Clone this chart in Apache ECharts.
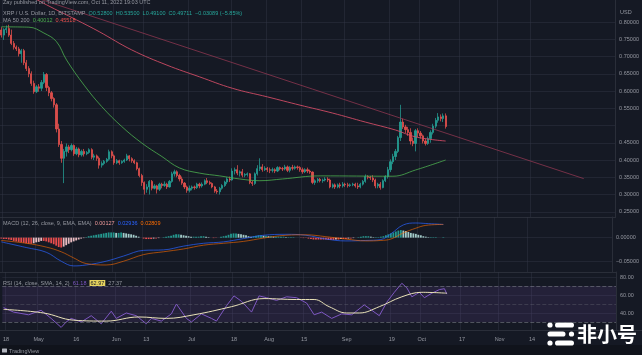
<!DOCTYPE html>
<html>
<head>
<meta charset="utf-8">
<style>
  html, body { margin: 0; padding: 0; background: #151924; }
  #chart { width: 642px; height: 355px; }
</style>
<script src="https://cdn.jsdelivr.net/npm/echarts@6/dist/echarts.min.js"></script>
</head>
<body>
<div id="chart"></div>
<script>
// XRP / U.S. Dollar, 1D, BITSTAMP
const START_DAY = '2022-04-17';
const DAY_COUNT = 245; // axis runs on into December (empty space right of the last bar)

// daily candles, Apr 17 .. Oct 11 2022
const opens = [
  .777,.762,.778,.781,.762,.738,.727,.722,.708,.717,.682,.665,.650,.622,.598,.612,.608,.625,.648,.610,
  .595,.578,.560,.490,.445,.405,.425,.438,.430,.442,.418,.432,.415,.425,.418,.422,.430,.408,.412,.405,
  .385,.390,.396,.402,.424,.412,.392,.398,.392,.396,.400,.412,.404,.398,.392,.375,.355,.335,.315,.322,
  .338,.318,.325,.315,.330,.326,.330,.322,.338,.360,.366,.355,.345,.333,.322,.312,.318,.322,.320,.330,
  .325,.330,.340,.335,.332,.322,.310,.308,.318,.326,.336,.345,.342,.368,.372,.362,.366,.356,.358,.360,
  .335,.332,.360,.375,.380,.372,.376,.372,.370,.372,.368,.378,.375,.374,.380,.370,.378,.376,.380,.378,
  .372,.366,.372,.368,.365,.335,.340,.344,.340,.342,.345,.342,.322,.328,.322,.328,.325,.330,.328,.326,
  .328,.330,.325,.322,.330,.338,.352,.350,.348,.342,.325,.330,.320,.340,.352,.372,.395,.410,.425,.465,
  .510,.496,.488,.480,.455,.448,.485,.478,.470,.455,.448,.462,.480,.498,.515,.525,.520,.528
];
const closes = [
  .762,.778,.781,.762,.738,.727,.722,.708,.717,.682,.665,.650,.622,.598,.612,.608,.625,.648,.610,.595,
  .578,.560,.490,.445,.405,.425,.438,.430,.442,.418,.432,.415,.425,.418,.422,.430,.408,.412,.405,.385,
  .390,.396,.402,.424,.412,.392,.398,.392,.396,.400,.412,.404,.398,.392,.375,.355,.335,.315,.322,.338,
  .318,.325,.315,.330,.326,.330,.322,.338,.360,.366,.355,.345,.333,.322,.312,.318,.322,.320,.330,.325,
  .330,.340,.335,.332,.322,.310,.308,.318,.326,.336,.345,.342,.368,.372,.362,.366,.356,.358,.360,.335,
  .332,.360,.375,.380,.372,.376,.372,.370,.372,.368,.378,.375,.374,.380,.370,.378,.376,.380,.378,.372,
  .366,.372,.368,.365,.335,.340,.344,.340,.342,.345,.342,.322,.328,.322,.328,.325,.330,.328,.326,.328,
  .330,.325,.322,.330,.338,.352,.350,.348,.342,.325,.330,.320,.340,.352,.372,.395,.410,.425,.465,.510,
  .496,.488,.480,.455,.448,.485,.478,.470,.455,.448,.462,.480,.498,.515,.525,.520,.528,.49711
];
const lows = [
  .755,.748,.768,.757,.733,.720,.716,.700,.682,.675,.658,.640,.615,.592,.594,.598,.600,.620,.600,.585,
  .570,.552,.480,.438,.392,.333,.410,.420,.425,.412,.414,.408,.410,.410,.414,.418,.402,.400,.398,.375,
  .378,.385,.392,.398,.405,.386,.388,.386,.389,.392,.397,.396,.392,.388,.370,.350,.325,.300,.305,.300,
  .312,.315,.303,.310,.318,.322,.316,.320,.334,.352,.350,.338,.328,.316,.305,.306,.312,.314,.316,.318,
  .320,.327,.330,.328,.318,.305,.302,.300,.314,.322,.330,.336,.340,.358,.356,.352,.350,.350,.352,.330,
  .325,.328,.355,.368,.366,.368,.365,.362,.364,.362,.365,.370,.368,.370,.365,.364,.370,.372,.372,.366,
  .360,.362,.362,.360,.330,.328,.334,.335,.334,.338,.336,.318,.318,.316,.318,.318,.320,.322,.320,.322,
  .324,.320,.316,.318,.326,.334,.344,.342,.336,.318,.318,.314,.318,.336,.346,.365,.388,.400,.420,.455,
  .490,.478,.470,.445,.440,.425,.466,.462,.448,.442,.444,.450,.474,.492,.508,.512,.510,.491
];
const highs = [
  .785,.782,.790,.792,.778,.745,.732,.728,.722,.722,.690,.672,.657,.630,.617,.620,.632,.655,.652,.615,
  .600,.582,.565,.505,.455,.432,.448,.444,.448,.445,.438,.436,.430,.432,.426,.434,.434,.418,.416,.410,
  .396,.400,.406,.430,.428,.416,.403,.401,.399,.404,.418,.414,.408,.402,.395,.378,.360,.338,.330,.342,
  .342,.330,.328,.334,.334,.338,.334,.342,.366,.372,.370,.360,.352,.336,.326,.326,.326,.326,.334,.334,
  .335,.344,.348,.340,.335,.325,.316,.322,.330,.340,.350,.352,.376,.378,.385,.370,.374,.362,.364,.362,
  .340,.364,.385,.405,.388,.382,.380,.378,.378,.376,.382,.381,.380,.386,.384,.382,.386,.384,.384,.382,
  .378,.376,.378,.372,.367,.344,.348,.348,.346,.350,.350,.346,.332,.332,.332,.334,.336,.334,.334,.332,
  .334,.334,.334,.334,.342,.358,.356,.354,.356,.346,.334,.336,.344,.356,.380,.402,.418,.432,.470,.560,
  .520,.502,.496,.492,.465,.490,.492,.484,.474,.462,.468,.486,.505,.522,.536,.532,.535,.535
];

// moving averages (bar index, value)
const ma50Idx = [0, 11, 17, 22, 26, 33, 40, 48, 56, 64, 71, 79, 87, 95, 103, 112, 127, 156, 165, 177];
const ma50Val = [.786, .785, .768, .743, .690, .617, .555, .497, .449, .410, .377, .362, .354, .345, .340, .345, .354, .353, .371, .400];
const ma200Idx = [0, 18, 30, 39, 52, 66, 79, 92, 106, 119, 132, 145, 157, 165, 177];
const ma200Val = [.920, .850, .806, .772, .719, .675, .641, .608, .583, .559, .536, .510, .487, .467, .455];

// drawn trend line (bar index, price)
const trendIdx = [16, 232];
const trendVal = [0.865, 0.346];

// MACD (12, 26, close, 9)
const macdHist = [
  -.002,-.003,-.003,-.004,-.005,
  -.007,-.008,-.009,-.010,-.011,-.012,-.013,-.013,
  -.012,-.010,-.009,-.007,-.007,-.008,
  -.010,-.012,-.014,-.017,-.020,-.021,-.019,
  -.016,-.013,-.010,-.008,-.006,-.004,-.002,-.001,
  .001,.003,.004,.005,.006,.007,.008,
  .009,.010,.011,.011,.011,.010,.010,.011,.010,
  .009,.008,.007,.006,.004,.002,.000,
  -.002,-.003,-.003,-.003,-.002,-.002,-.001,.000,
  .001,.002,.003,.004,.006,.007,.007,.006,.005,.004,.003,
  .002,.002,.002,.002,.003,.003,.002,.001,.000,-.001,-.001,.000,
  .002,.003,.004,.006,.008,.009,.009,.008,.007,.006,.005,
  .003,.002,.003,.004,.005,.005,.004,.004,.003,.003,.002,.002,
  .002,.002,.002,.001,.001,.001,.001,.000,.000,-.001,-.001,
  -.001,-.002,-.003,-.004,-.004,-.004,-.004,-.004,-.004,-.005,-.005,-.005,-.004,-.004,-.003,-.003,-.003,
  -.002,-.002,-.001,.000,.001,.002,.003,.003,.003,.002,.001,.001,
  .001,.002,.003,.005,.007,.009,.011,.013,.015,
  .016,.015,.014,.012,.010,.009,.008,.006,.005,.003,
  .002,.001,.001,.001,.001,.000,.000,.001
];
const macdIdx = [0, 10, 18, 24, 29, 34, 42, 49, 57, 65, 73, 81, 89, 97, 105, 114, 122, 130, 138, 146, 152, 156, 161, 166, 170, 177];
const macdVal = [-.009, -.021, -.031, -.050, -.060, -.058, -.050, -.039, -.027, -.026, -.018, -.012, -.009, -.002, .005, .007, .005, -.003, -.007, -.006, -.004, .008, .027, .031, .030, .028];
const signalVal = [-.006, -.012, -.020, -.030, -.043, -.055, -.058, -.050, -.036, -.030, -.024, -.016, -.012, -.008, -.001, .005, .006, .002, -.003, -.007, -.006, -.003, .010, .020, .026, .028];

// RSI (14) and its SMA (14)
const rsiIdx = [0, 4, 10, 15, 19, 23, 25, 27, 31, 35, 39, 43, 45, 49, 53, 57, 59, 63, 67, 69, 73, 75, 79, 83, 85, 89, 92, 95, 99, 102,
  105, 109, 113, 117, 121, 124, 127, 131, 135, 139, 144, 147, 150, 153, 156, 159, 161, 163, 166, 168, 171, 174, 176, 177];
const rsiVal = [46, 41, 38, 43, 34, 24, 30, 34, 30, 37, 28, 42, 34, 40, 37, 28, 34, 31, 39, 50, 34, 30, 39, 34, 31, 48, 59, 53, 41, 59,
  57, 54, 58, 57, 51, 38, 41, 34, 39, 38, 49, 43, 37, 52, 63, 73, 68, 58, 63, 57, 62, 66, 67, 61];
const rsiMaIdx = [0, 16, 28, 41, 54, 65, 76, 91, 104, 117, 124, 130, 137, 142, 150, 159, 167, 177];
const rsiMaVal = [44, 40, 32, 31, 35.6, 34, 38, 47, 56, 55, 55, 47, 40, 40, 47, 58, 63, 62];

// axis labels
const tickDates = ['2022-04-18', '2022-05-01', '2022-05-16', '2022-06-01', '2022-06-13', '2022-07-01', '2022-07-18', '2022-08-01',
  '2022-08-15', '2022-09-01', '2022-09-19', '2022-10-01', '2022-10-17', '2022-11-01', '2022-11-14'];
const tickTexts = ['18', 'May', '16', 'Jun', '13', 'Jul', '18', 'Aug', '15', 'Sep', '19', 'Oct', '17', 'Nov', '14'];
const priceTicks = [0.25, 0.30, 0.35, 0.40, 0.45, 0.50, 0.55, 0.60, 0.65, 0.70, 0.75, 0.80];
const priceLabels = [0.25, 0.30, 0.35, 0.40, 0.45, 0.55, 0.60, 0.65, 0.70, 0.75, 0.80];
const macdTicks = [-0.05, 0];
const rsiTicks = [40, 60, 80];

// --- build the day axis
const days = [];
const d0 = new Date(START_DAY + 'T00:00:00Z');
for (let i = 0; i < DAY_COUNT; i++) {
  const d = new Date(d0.getTime() + i * 86400000);
  days.push(d.toISOString().slice(0, 10));
}
const tickMap = {};
tickDates.forEach((d, i) => { tickMap[d] = tickTexts[i]; });
const isTick = (idx, val) => tickMap[val] !== undefined;

const BG = '#151924';
const TXT = '#9598a1';
const GRIDC = 'rgba(50,55,70,0.45)';
const UP = '#26a69a';
const DOWN = '#ef5350';
const FONT = 'Liberation Sans';
const FS = 5.5;

const candles = closes.map((c, i) => [opens[i], c, lows[i], highs[i]]);
const pairs = (idx, val) => idx.map((x, i) => [x, val[i]]);
const last = closes[closes.length - 1];

const histColor = (p) => {
  const i = p.dataIndex;
  const v = macdHist[i];
  const prev = i > 0 ? macdHist[i - 1] : v;
  if (v >= 0) return v >= prev ? '#26a69a' : '#b2dfdb';
  return v <= prev ? '#ff5252' : '#ffcdd2';
};

const xBase = (gi, showLabels) => ({
  type: 'category',
  gridIndex: gi,
  data: days,
  boundaryGap: true,
  axisLine: { show: false },
  axisTick: { show: false },
  axisLabel: {
    show: showLabels,
    interval: isTick,
    formatter: (v) => tickMap[v] || '',
    color: TXT,
    fontSize: FS,
    fontFamily: FONT,
    margin: 6
  },
  splitLine: { show: true, interval: isTick, lineStyle: { color: GRIDC, width: 1 } }
});

const yBase = (gi, min, max, ticks, labels, fmt) => ({
  type: 'value',
  gridIndex: gi,
  position: 'right',
  min: min,
  max: max,
  axisLine: { show: true, lineStyle: { color: '#2a2e39' } },
  axisTick: { show: false, customValues: ticks },
  axisLabel: {
    customValues: labels,
    formatter: fmt,
    color: TXT,
    fontSize: FS,
    fontFamily: FONT,
    margin: 4
  },
  splitLine: { show: true, lineStyle: { color: GRIDC, width: 1 } }
});

const hdr = (text, left, top, rich) => ({
  text: text,
  left: left,
  top: top,
  padding: 0,
  textStyle: { fontSize: FS, fontFamily: FONT, fontWeight: 'normal', color: TXT, rich: rich || {} }
});

const chart = echarts.init(document.getElementById('chart'));

const option = {
  backgroundColor: BG,
  animation: false,
  title: [
    hdr('Zay published on TradingView.com, Oct 11, 2022 19:03 UTC', 3, -1),
    hdr('XRP / U.S. Dollar, 1D, BITSTAMP  {v|O0.52800  H0.53500  L0.49100  C0.49711  −0.03089 (−5.85%)}', 3, 10,
      { v: { color: UP, fontSize: FS, fontFamily: FONT } }),
    hdr('MA 50 200  {g|0.40012}  {r|0.45518}', 3, 17,
      { g: { color: '#4caf50', fontSize: FS, fontFamily: FONT }, r: { color: '#ef5350', fontSize: FS, fontFamily: FONT } }),
    hdr('MACD (12, 26, close, 9, EMA, EMA)  {h|0.00127}  {m|0.02936}  {s|0.02809}', 3, 220,
      { h: { color: '#ef9a9a', fontSize: FS, fontFamily: FONT }, m: { color: '#2962ff', fontSize: FS, fontFamily: FONT },
        s: { color: '#ff6d00', fontSize: FS, fontFamily: FONT } }),
    hdr('RSI (14, close, SMA, 14, 2)  {r|61.18}  {m|62.97}  {n|27.37}', 3, 280,
      { r: { color: '#7e57c2', fontSize: FS, fontFamily: FONT },
        m: { color: '#151924', backgroundColor: '#e6d35f', fontSize: FS, fontFamily: FONT, padding: [0, 1] },
        n: { color: TXT, fontSize: FS, fontFamily: FONT } }),
    hdr('USD', 620, 9),
    hdr('TradingView', 9, 348)
  ],
  grid: [
    { left: -1, right: 26, top: 0, height: 217 },
    { left: -1, right: 26, top: 217, height: 55 },
    { left: -1, right: 26, top: 272, height: 58 }
  ],
  xAxis: [xBase(0, false), xBase(1, false), xBase(2, true)],
  yAxis: [
    yBase(0, 0.2348, 0.8638, priceTicks, priceLabels, (v) => v.toFixed(5)),
    yBase(1, -0.0729, 0.04375, macdTicks, macdTicks, (v) => (v < 0 ? '−' : '') + Math.abs(v).toFixed(5)),
    yBase(2, 21.1, 85.56, rsiTicks, rsiTicks, (v) => v.toFixed(2))
  ],
  series: [
    {
      name: 'XRPUSD',
      type: 'candlestick',
      xAxisIndex: 0,
      yAxisIndex: 0,
      data: candles,
      barWidth: 1.7,
      itemStyle: { color: UP, color0: DOWN, borderColor: UP, borderColor0: DOWN, borderWidth: 0.8, opacity: 0.9 },
      markLine: {
        silent: true,
        symbol: 'none',
        lineStyle: { color: UP, opacity: 0 },
        label: {
          position: 'end',
          distance: 0,
          formatter: '{a|' + last.toFixed(5) + '}\n{b|04:56:51}',
          backgroundColor: UP,
          padding: [2, 3, 1, 3],
          rich: {
            a: { color: '#ffffff', fontSize: FS, fontFamily: FONT, lineHeight: 6 },
            b: { color: '#e0f2f1', fontSize: 4.5, fontFamily: FONT, lineHeight: 6 }
          }
        },
        data: [{ yAxis: last }]
      }
    },
    {
      name: 'MA50',
      type: 'line',
      xAxisIndex: 0,
      yAxisIndex: 0,
      data: pairs(ma50Idx, ma50Val),
      smooth: 0.4,
      showSymbol: false,
      lineStyle: { color: '#4caf50', width: 1, opacity: 0.8 }
    },
    {
      name: 'MA200',
      type: 'line',
      xAxisIndex: 0,
      yAxisIndex: 0,
      data: pairs(ma200Idx, ma200Val),
      smooth: 0.4,
      showSymbol: false,
      lineStyle: { color: '#d94f68', width: 1, opacity: 0.85 }
    },
    {
      name: 'trend',
      type: 'line',
      xAxisIndex: 0,
      yAxisIndex: 0,
      data: pairs(trendIdx, trendVal),
      showSymbol: false,
      lineStyle: { color: '#9c3a56', width: 1, opacity: 0.7 }
    },
    {
      name: 'Histogram',
      type: 'bar',
      xAxisIndex: 1,
      yAxisIndex: 1,
      data: macdHist,
      barWidth: 1.8,
      itemStyle: { color: histColor, opacity: 0.9 }
    },
    {
      name: 'MACD',
      type: 'line',
      xAxisIndex: 1,
      yAxisIndex: 1,
      data: pairs(macdIdx, macdVal),
      smooth: 0.4,
      showSymbol: false,
      lineStyle: { color: '#2962ff', width: 1, opacity: 0.7 }
    },
    {
      name: 'Signal',
      type: 'line',
      xAxisIndex: 1,
      yAxisIndex: 1,
      data: pairs(macdIdx, signalVal),
      smooth: 0.4,
      showSymbol: false,
      lineStyle: { color: '#ff6d00', width: 1, opacity: 0.6 }
    },
    {
      name: 'RSI',
      type: 'line',
      xAxisIndex: 2,
      yAxisIndex: 2,
      data: pairs(rsiIdx, rsiVal),
      showSymbol: false,
      lineStyle: { color: '#7e57c2', width: 1 },
      markArea: {
        silent: true,
        itemStyle: { color: 'rgba(126,87,194,0.14)' },
        data: [[{ yAxis: 70 }, { yAxis: 30 }]]
      },
      markLine: {
        silent: true,
        symbol: 'none',
        label: { show: false },
        lineStyle: { color: '#787b86', type: 'dashed', width: 1, opacity: 0.6 },
        data: [{ yAxis: 70 }, { yAxis: 50, lineStyle: { opacity: 0.3 } }, { yAxis: 30 }]
      }
    },
    {
      name: 'RSI MA',
      type: 'line',
      xAxisIndex: 2,
      yAxisIndex: 2,
      data: pairs(rsiMaIdx, rsiMaVal),
      smooth: 0.4,
      showSymbol: false,
      lineStyle: { color: '#e9e2b8', width: 1 }
    }
  ],
  graphic: [
    { type: 'rect', shape: { x: 0, y: 345, width: 642, height: 10 }, style: { fill: '#10131b' }, silent: true },
    { type: 'line', shape: { x1: 0, y1: 217.5, x2: 616, y2: 217.5 }, style: { stroke: '#2a2e39', lineWidth: 1 }, silent: true },
    { type: 'line', shape: { x1: 0, y1: 272.5, x2: 616, y2: 272.5 }, style: { stroke: '#2a2e39', lineWidth: 1 }, silent: true },
    { type: 'line', shape: { x1: 0, y1: 330.5, x2: 642, y2: 330.5 }, style: { stroke: '#2a2e39', lineWidth: 1 }, silent: true },
    // TradingView mark in the footer
    { type: 'rect', shape: { x: 2, y: 348.5, width: 5, height: 4, r: 0.5 }, style: { fill: '#b2b5be' }, silent: true },
    // watermark logo, bottom right
    {
      type: 'group',
      silent: true,
      children: [
        { type: 'circle', shape: { cx: 550, cy: 325, r: 2.6 }, style: { fill: '#ffffff' } },
        { type: 'rect', shape: { x: 555, y: 322.4, width: 19, height: 5.2, r: 2.6 }, style: { fill: '#ffffff' } },
        { type: 'rect', shape: { x: 547.5, y: 331.4, width: 18, height: 5.2, r: 2.6 }, style: { fill: '#ffffff' } },
        { type: 'circle', shape: { cx: 571.5, cy: 334, r: 2.6 }, style: { fill: '#ffffff' } },
        { type: 'circle', shape: { cx: 550, cy: 343, r: 2.6 }, style: { fill: '#ffffff' } },
        { type: 'rect', shape: { x: 555, y: 340.4, width: 19, height: 5.2, r: 2.6 }, style: { fill: '#ffffff' } },
        {
          type: 'text',
          x: 577,
          y: 334,
          style: {
            text: '非小号',
            fill: '#ffffff',
            font: 'bold 20px "Noto Sans CJK SC"',
            verticalAlign: 'middle'
          }
        }
      ]
    }
  ]
};

chart.setOption(option);
</script>
</body>
</html>
